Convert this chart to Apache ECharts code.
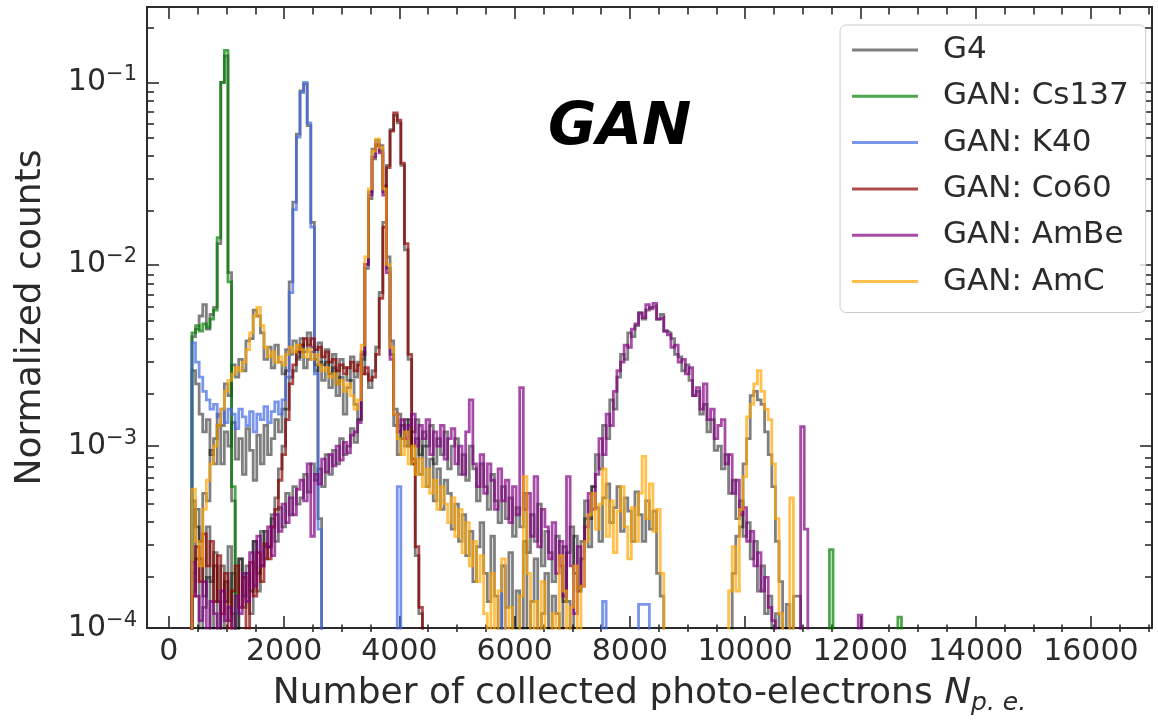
<!DOCTYPE html>
<html><head><meta charset="utf-8">
<script src="https://cdn.jsdelivr.net/npm/echarts@6/dist/echarts.min.js"></script>
<style>html,body{margin:0;padding:0;background:#fff}#c{width:1158px;height:721px}</style>
</head><body><div id="c"></div>
<script>
// ---------------- data (normalized counts per bin, bins start at X0, width BIN) ----------------
const BIN = 62.5;
const X0 = 400;

const cs137G4 = [4.0e-3, 4.4e-3, 5.2e-3, 6.0e-3, 4.4e-3, 5.3e-3, 5.8e-3, 1.3e-2, 0.1, 0.14, 9e-3, 5e-4];
const cs137Gan = [4.2e-3, 4.6e-3, 4.3e-3, 4.7e-3, 4.5e-3, 5.0e-3, 5.6e-3, 1.4e-2, 0.1, 0.15, 8e-3, 6e-4];
const cs137GanTail = [[11462.5, [2.7e-4]], [12650, [1.15e-4]]];

const k40G4 = [
  2.6e-3, 2.2e-3, 1.5e-3, 1.2e-3, 1.4e-3, 9e-4, 1.1e-3, 1.3e-3, 8e-4, 1.2e-3,
  1.0e-3, 1.35e-3, 8.5e-4, 1.1e-3, 7e-4, 1.25e-3, 9.5e-4, 6.5e-4, 1.15e-3, 8e-4,
  1.3e-3, 9e-4, 1.1e-3, 1.4e-3, 1.2e-3, 1.6e-3, 2.6e-3, 8e-3, 2.2e-2, 5.2e-2,
  0.09, 0.098, 0.058, 1.7e-2, 2.8e-3, 4e-4];
const k40Gan = [
  3.7e-3, 2.9e-3, 2.4e-3, 2.0e-3, 1.8e-3, 1.6e-3, 1.7e-3, 1.45e-3, 1.6e-3, 1.35e-3,
  1.6e-3, 1.5e-3, 1.25e-3, 1.6e-3, 1.45e-3, 1.3e-3, 1.55e-3, 1.2e-3, 1.5e-3, 1.4e-3,
  1.65e-3, 1.35e-3, 1.55e-3, 1.75e-3, 1.5e-3, 1.8e-3, 2.4e-3, 7e-3, 2.0e-2, 5e-2,
  0.088, 0.1, 0.06, 1.6e-2, 2.5e-3, 3.5e-4];
const k40GanTail = [[3962.5, [6e-4]], [5775, [2.2e-4]], [7525, [1.4e-4]], [8150, [1.35e-4, 1.35e-4, 1.35e-4]]];

const co60G4 = [
  2.0e-4, 4.5e-4, 2.4e-4, 1.5e-4, 3.6e-4, 1.8e-4, 2.6e-4, 0, 2.2e-4, 1.4e-4,
  2.8e-4, 1.2e-4, 0, 2.4e-4, 1.5e-4, 2.0e-4, 1.2e-4, 3.0e-4, 1.6e-4, 2.2e-4,
  3.4e-4, 2.8e-4, 4.2e-4, 5.2e-4, 7.5e-4, 1.0e-3, 1.6e-3, 2.4e-3, 2.6e-3, 3.0e-3,
  3.9e-3, 3.3e-3, 4.2e-3, 3.5e-3, 3.0e-3, 3.7e-3, 2.8e-3, 3.4e-3, 2.5e-3, 3.2e-3,
  2.2e-3, 3.0e-3, 2.7e-3, 2.3e-3, 3.1e-3, 2.4e-3, 2.9e-3, 3.3e-3, 2.5e-3, 2.1e-3,
  2.6e-3, 3.5e-3, 7e-3, 1.7e-2, 3.5e-2, 5.5e-2, 0.066, 0.06, 3.5e-2, 1.2e-2,
  3e-3, 8e-4, 2.5e-4, 1.2e-4];
const co60Gan = [
  1.5e-4, 2.8e-4, 1.8e-4, 3.3e-4, 2.2e-4, 3.0e-4, 1.4e-4, 2.5e-4, 1.2e-4, 2.0e-4,
  0, 1.6e-4, 2.2e-4, 1.3e-4, 1.9e-4, 0, 2.3e-4, 1.5e-4, 2.6e-4, 1.8e-4,
  2.9e-4, 2.4e-4, 3.6e-4, 4.5e-4, 6.5e-4, 9e-4, 1.4e-3, 2.2e-3, 2.8e-3, 3.3e-3,
  3.6e-3, 3.9e-3, 3.6e-3, 3.9e-3, 3.4e-3, 3.5e-3, 3.1e-3, 3.3e-3, 2.9e-3, 3.0e-3,
  2.6e-3, 2.8e-3, 2.5e-3, 2.7e-3, 2.9e-3, 2.6e-3, 2.8e-3, 2.5e-3, 2.7e-3, 2.3e-3,
  2.4e-3, 3.2e-3, 6.5e-3, 1.6e-2, 3.4e-2, 5.4e-2, 0.068, 0.062, 3.6e-2, 1.3e-2,
  3.2e-3, 8.5e-4, 2.8e-4, 1.3e-4];

const ambeG4 = [
  1.6e-4, 2.4e-4, 0, 1.3e-4, 1.9e-4, 0, 2.2e-4, 1.4e-4, 0, 1.8e-4,
  1.1e-4, 2.0e-4, 0, 2.4e-4, 1.3e-4, 2.2e-4, 1.6e-4, 3.0e-4, 2.0e-4, 3.4e-4,
  2.4e-4, 2.8e-4, 4.0e-4, 3.0e-4, 4.6e-4, 3.6e-4, 5.5e-4, 4.2e-4, 6e-4, 4.8e-4,
  5.2e-4, 7e-4, 5.6e-4, 8e-4, 6.5e-4, 7.5e-4, 6e-4, 9e-4, 7e-4, 9.5e-4,
  8e-4, 1.1e-3, 9e-4, 1.0e-3, 1.25e-3, 1.05e-3, 1.4e-3, 3.0e-3, 9.5e-3, 2.3e-2,
  3.8e-2, 4.5e-2, 4.2e-2, 2.5e-2, 9.5e-3, 3.2e-3, 1.3e-3, 1.5e-3, 1.1e-3, 1.4e-3,
  1.0e-3, 1.2e-3, 1.4e-3, 9e-4, 1.2e-3, 1.0e-3, 1.3e-3, 8e-4, 1.1e-3, 9e-4,
  1.2e-3, 7.5e-4, 1.0e-3, 1.1e-3, 7e-4, 9e-4, 6.5e-4, 1.0e-3, 7.5e-4, 5e-4,
  8e-4, 6e-4, 4.5e-4, 7e-4, 5e-4, 3.8e-4, 6e-4, 4e-4, 5.2e-4, 3.2e-4,
  4.6e-4, 3.6e-4, 5.5e-4, 2.6e-4, 4.2e-4, 3.0e-4, 4.8e-4, 2.2e-4, 3.4e-4, 2.6e-4,
  1.8e-4, 3.2e-4, 2.2e-4, 1.4e-4, 2.6e-4, 3.6e-4, 2.0e-4, 1.6e-4, 3.0e-4, 5.0e-4,
  4.0e-4, 6e-4, 9e-4, 7.5e-4, 1.3e-3, 1.1e-3, 1.8e-3, 1.6e-3, 2.4e-3, 3.2e-3,
  3.0e-3, 4.2e-3, 4.0e-3, 4.6e-3, 5.4e-3, 5.0e-3, 5.6e-3, 5.8e-3, 5.9e-3, 5.0e-3,
  5.3e-3, 4.3e-3, 4.2e-3, 3.9e-3, 3.2e-3, 3.1e-3, 2.6e-3, 2.8e-3, 2.3e-3, 1.9e-3,
  2.0e-3, 1.5e-3, 1.7e-3, 1.2e-3, 1.4e-3, 9.5e-4, 1.0e-3, 7.5e-4, 9e-4, 5.5e-4,
  6.5e-4, 4e-4, 5e-4, 3.2e-4, 3.8e-4, 2.4e-4, 3.0e-4, 1.6e-4, 2.2e-4, 1.2e-4,
  1.5e-4, 0, 1.2e-4];
const ambeGan = [
  2.3e-4, 1.5e-4, 1.1e-4, 1.8e-4, 0, 1.4e-4, 1.2e-4, 0, 1.6e-4, 1.1e-4,
  1.3e-4, 0, 1.5e-4, 1.2e-4, 2.0e-4, 1.4e-4, 2.6e-4, 1.7e-4, 3.2e-4, 2.2e-4,
  2.8e-4, 3.6e-4, 2.5e-4, 4.2e-4, 3.4e-4, 4.8e-4, 3.8e-4, 5.2e-4, 4.2e-4, 5.8e-4,
  6.5e-4, 5.0e-4, 8e-4, 3.2e-4, 7e-4, 6.2e-4, 8.5e-4, 7.2e-4, 9e-4, 7.8e-4,
  1.0e-3, 8.4e-4, 1.05e-3, 9.2e-4, 1.15e-3, 1.2e-3, 1.35e-3, 3.2e-3, 1.0e-2, 2.4e-2,
  3.9e-2, 4.6e-2, 4.1e-2, 2.4e-2, 9e-3, 3.0e-3, 1.5e-3, 1.2e-3, 1.4e-3, 1.1e-3,
  1.3e-3, 1.5e-3, 1.0e-3, 1.3e-3, 1.1e-3, 1.4e-3, 9e-4, 1.2e-3, 1.0e-3, 1.3e-3,
  8.5e-4, 1.1e-3, 1.25e-3, 8e-4, 1.0e-3, 7e-4, 1.2e-3, 1.8e-3, 8e-4, 6e-4,
  9e-4, 5.5e-4, 8e-4, 6.5e-4, 4.5e-4, 7.5e-4, 5e-4, 6.5e-4, 3.8e-4, 6e-4,
  4.2e-4, 2.1e-3, 4.5e-4, 5.5e-4, 3.2e-4, 6.8e-4, 2.8e-4, 4.5e-4, 3.6e-4, 2.4e-4,
  3.8e-4, 2.0e-4, 3.0e-4, 1.5e-4, 6.8e-4, 2.2e-4, 1.2e-4, 2.8e-4, 1.7e-4, 3.6e-4,
  5.5e-4, 4.5e-4, 7e-4, 1.1e-3, 9e-4, 1.5e-3, 1.3e-3, 2.0e-3, 2.6e-3, 2.9e-3,
  3.6e-3, 3.5e-3, 4.4e-3, 4.7e-3, 5.4e-3, 5.1e-3, 6.0e-3, 5.7e-3, 6.1e-3, 5.0e-3,
  5.1e-3, 4.3e-3, 4.1e-3, 3.5e-3, 3.6e-3, 2.9e-3, 3.0e-3, 2.5e-3, 2.7e-3, 1.9e-3,
  2.1e-3, 1.6e-3, 2.2e-3, 1.4e-3, 1.6e-3, 1.1e-3, 1.3e-3, 1.4e-3, 8e-4, 9e-4,
  5.5e-4, 6.5e-4, 4.2e-4, 4.6e-4, 3.0e-4, 3.4e-4, 2.2e-4, 2.6e-4, 1.6e-4, 1.9e-4,
  1.3e-4, 1.1e-4, 0, 0, 0, 0, 0, 0, 0, 1.28e-3,
  3.5e-4];
const ambeGanTail = [[11962.5, [1.18e-4]]];

const amcG4 = [
  5.0e-4, 3.6e-4, 3.0e-4, 5.5e-4, 5.0e-4, 9.5e-4, 8e-4, 1.5e-3, 1.3e-3, 2.2e-3,
  1.9e-3, 2.8e-3, 2.4e-3, 3.0e-3, 2.6e-3, 3.8e-3, 3.9e-3, 5.6e-3, 5.2e-3, 4.2e-3,
  3.0e-3, 3.5e-3, 2.7e-3, 3.6e-3, 2.9e-3, 2.5e-3, 3.4e-3, 3.2e-3, 3.8e-3, 3.1e-3,
  3.6e-3, 2.7e-3, 3.0e-3, 3.3e-3, 2.6e-3, 2.9e-3, 2.3e-3, 2.9e-3, 2.1e-3, 2.7e-3,
  1.9e-3, 2.4e-3, 1.5e-3, 2.1e-3, 2.3e-3, 1.7e-3, 1.4e-3, 3.2e-3, 1.0e-2, 2.5e-2,
  4.3e-2, 4.8e-2, 4.5e-2, 2.7e-2, 1.1e-2, 3.8e-3, 1.6e-3, 9e-4, 1.3e-3, 1.0e-3,
  1.4e-3, 8e-4, 1.1e-3, 7e-4, 1.0e-3, 6e-4, 8.5e-4, 5e-4, 7.5e-4, 4.5e-4,
  6.5e-4, 5.5e-4, 3.5e-4, 4.8e-4, 3.0e-4, 4.2e-4, 2.5e-4, 3.4e-4, 1.8e-4, 2.8e-4,
  3.8e-4, 2.0e-4, 1.4e-4, 3.2e-4, 1.5e-4, 0, 2.2e-4, 1.3e-4, 2.6e-4, 0,
  1.6e-4, 0, 3.0e-4, 0, 1.4e-4, 2.4e-4, 0, 1.2e-4, 2.0e-4, 0,
  1.5e-4, 1.2e-4, 0, 2.8e-4, 1.4e-4, 0, 3.2e-4, 1.6e-4, 2.4e-4, 4.0e-4,
  2.8e-4, 6e-4, 4.6e-4, 3.0e-4, 5.2e-4, 6.2e-4, 3.8e-4, 4.6e-4, 6e-4, 3.4e-4,
  5.2e-4, 4.4e-4, 3.0e-4, 5.6e-4, 4.2e-4, 3.0e-4, 5.0e-4, 3.5e-4, 4.4e-4, 2.0e-4,
  1.5e-4, 0, 0, 0, 0, 0, 0, 0, 0, 0,
  0, 0, 0, 0, 0, 0, 0, 0, 0, 0,
  2.0e-4, 3.2e-4, 3.6e-4, 8e-4, 1.1e-3, 1.9e-3, 2.0e-3, 1.8e-3, 1.7e-3, 1.2e-3,
  9e-4, 6e-4, 3e-4, 1.8e-4, 0, 1.35e-4, 0, 1.5e-4, 1.5e-4];
const amcGan = [
  5.8e-4, 3.0e-4, 2.2e-4, 4.5e-4, 6.5e-4, 8e-4, 1.0e-3, 1.3e-3, 1.6e-3, 2.0e-3,
  2.3e-3, 2.5e-3, 2.7e-3, 2.6e-3, 2.9e-3, 3.4e-3, 4.2e-3, 5.2e-3, 5.8e-3, 4.6e-3,
  3.5e-3, 3.1e-3, 3.3e-3, 2.9e-3, 3.1e-3, 2.8e-3, 3.2e-3, 3.5e-3, 3.3e-3, 3.6e-3,
  3.4e-3, 3.1e-3, 3.4e-3, 3.0e-3, 3.2e-3, 2.8e-3, 2.6e-3, 2.7e-3, 2.4e-3, 2.5e-3,
  2.2e-3, 2.3e-3, 2.0e-3, 2.2e-3, 1.9e-3, 1.6e-3, 1.8e-3, 3.6e-3, 1.1e-2, 2.6e-2,
  4.2e-2, 4.9e-2, 4.4e-2, 2.6e-2, 1.0e-2, 3.5e-3, 1.5e-3, 1.1e-3, 9e-4, 1.2e-3,
  8e-4, 1.0e-3, 7e-4, 8.5e-4, 6e-4, 7.5e-4, 5.5e-4, 6.5e-4, 4.5e-4, 6e-4,
  4.8e-4, 3.8e-4, 5.2e-4, 3.2e-4, 4.5e-4, 2.6e-4, 3.8e-4, 2.2e-4, 3.0e-4, 1.8e-4,
  2.5e-4, 1.2e-4, 0, 2.0e-4, 0, 1.6e-4, 2.4e-4, 0, 1.3e-4, 0,
  0, 1.5e-4, 6.8e-4, 2.0e-4, 0, 1.4e-4, 0, 1.8e-4, 0, 0,
  1.2e-4, 0, 2.5e-4, 1.6e-4, 0, 1.3e-4, 2.2e-4, 0, 1.7e-4, 3.0e-4,
  4.2e-4, 5.5e-4, 3.5e-4, 4.8e-4, 7.5e-4, 3.2e-4, 5e-4, 2.6e-4, 4.4e-4, 6e-4,
  3.6e-4, 2.4e-4, 4.6e-4, 3.0e-4, 5.5e-4, 8.8e-4, 4.0e-4, 6.2e-4, 3.4e-4, 4.5e-4,
  2.0e-4, 0, 0, 0, 0, 0, 0, 0, 0, 0,
  0, 0, 0, 0, 0, 0, 0, 0, 0, 1.6e-4,
  2.8e-4, 1.6e-4, 4.5e-4, 6.8e-4, 1.45e-3, 1.7e-3, 2.2e-3, 2.6e-3, 2.0e-3, 1.6e-3,
  1.4e-3, 8e-4, 4e-4, 1.2e-4, 0, 0, 5.2e-4];

// ---------------- axes / ticks ----------------
const X_MIN = -380, X_MAX = 17060;
const Y_MIN = 1e-4, Y_MAX = 0.26;
const xMajorTicks = [0, 2000, 4000, 6000, 8000, 10000, 12000, 14000, 16000];
const xTickLabels = ['0', '2000', '4000', '6000', '8000', '10000', '12000', '14000', '16000'];
const xMinorTicks = [500, 1000, 1500, 2500, 3000, 3500, 4500, 5000, 5500, 6500, 7000, 7500,
  8500, 9000, 9500, 10500, 11000, 11500, 12500, 13000, 13500, 14500, 15000, 15500, 16500, 17000];
const yMajorTicks = [1e-4, 1e-3, 1e-2, 1e-1];
const yTickExponents = ['4', '3', '2', '1'];
const yMinorTicks = [2e-4,3e-4,4e-4,5e-4,6e-4,7e-4,8e-4,9e-4, 2e-3,3e-3,4e-3,5e-3,6e-3,7e-3,8e-3,9e-3,
  2e-2,3e-2,4e-2,5e-2,6e-2,7e-2,8e-2,9e-2, 2e-1];

const LEGEND = ['G4', 'GAN: Cs137', 'GAN: K40', 'GAN: Co60', 'GAN: AmBe', 'GAN: AmC'];
const COLORS = {
  'G4': 'rgba(0,0,0,0.5)',
  'GAN: Cs137': 'rgba(0,128,0,0.7)',
  'GAN: K40': 'rgba(65,105,225,0.7)',
  'GAN: Co60': 'rgba(139,0,0,0.7)',
  'GAN: AmBe': 'rgba(128,0,128,0.7)',
  'GAN: AmC': 'rgba(255,165,0,0.7)'
};

// ---------------- build ----------------
const FLOOR = 1e-6;
function stepPath(segs) {
  const pts = [];
  for (const [x0, vals] of segs) {
    pts.push([x0, FLOOR]);
    vals.forEach((v, i) => {
      const y = v > 0 ? v : FLOOR;
      pts.push([x0 + i * BIN, y], [x0 + (i + 1) * BIN, y]);
    });
    pts.push([x0 + vals.length * BIN, FLOOR]);
  }
  return pts;
}
function mk(name, segs, z) {
  const c = COLORS[name];
  return { type: 'line', name, data: stepPath(segs), symbol: 'none', showSymbol: false,
    lineStyle: { color: c, width: 2.8, join: 'miter' }, itemStyle: { color: c },
    clip: true, silent: true, z, xAxisIndex: 0, yAxisIndex: 0 };
}
const FONT = 'DejaVu Sans';
const TXT = '#2b2b2b';
const GRID = { left: 147, right: 6, top: 7, bottom: 89 };
function xAx(grid, pos, ticks, len, labels) {
  return { type: 'value', min: X_MIN, max: X_MAX, position: pos, gridIndex: grid,
    axisLine: { show: false, onZero: false }, splitLine: { show: false }, minorTick: { show: false },
    axisTick: { show: true, inside: true, length: len, customValues: ticks, lineStyle: { color: TXT, width: 1.6 } },
    axisLabel: labels ? { show: true, customValues: ticks, margin: 9, fontSize: 30, fontFamily: FONT, color: TXT,
      formatter: v => xTickLabels[xMajorTicks.indexOf(v)] } : { show: false } };
}
function yAx(grid, pos, ticks, len, labels) {
  return { type: 'log', min: Y_MIN, max: Y_MAX, logBase: 10, position: pos, gridIndex: grid,
    axisLine: { show: false, onZero: false }, splitLine: { show: false }, minorTick: { show: false },
    axisTick: { show: true, inside: true, length: len, customValues: ticks, lineStyle: { color: TXT, width: 1.6 } },
    axisLabel: labels ? { show: true, customValues: ticks, margin: 10,
      formatter: v => '{b|10}{s|\u2212' + yTickExponents[yMajorTicks.findIndex(t => Math.abs(t - v) / t < 1e-6)] + '}',
      rich: { b: { fontSize: 30, fontFamily: FONT, color: TXT, lineHeight: 36 },
              s: { fontSize: 21, fontFamily: FONT, color: TXT, lineHeight: 22, verticalAlign: 'top' } } } : { show: false } };
}
const xAxes = [xAx(0, 'bottom', xMajorTicks, 12, true), xAx(0, 'top', xMajorTicks, 12, false),
               xAx(1, 'bottom', xMinorTicks, 7.5, false), xAx(1, 'top', xMinorTicks, 7.5, false)];
Object.assign(xAxes[0], { name: 'Number of collected photo-electrons {i|N}{sub|p. e.}', nameLocation: 'middle', nameGap: 43,
  nameTextStyle: { fontSize: 36, fontFamily: FONT, color: TXT, lineHeight: 44,
    rich: { i: { fontSize: 36, fontFamily: FONT, fontStyle: 'italic', color: TXT, lineHeight: 44 },
            sub: { fontSize: 25, fontFamily: FONT, fontStyle: 'italic', color: TXT, lineHeight: 30, verticalAlign: 'bottom' } } } });
const yAxes = [yAx(0, 'left', yMajorTicks, 12, true), yAx(0, 'right', yMajorTicks, 12, false),
               yAx(1, 'left', yMinorTicks, 7, false), yAx(1, 'right', yMinorTicks, 7, false)];
Object.assign(yAxes[0], { name: 'Normalized counts', nameLocation: 'middle', nameGap: 96,
  nameTextStyle: { fontSize: 36, fontFamily: FONT, color: TXT, lineHeight: 40 } });

const series = [
  mk('G4', [[X0, cs137G4]], 2),
  mk('G4', [[X0, k40G4]], 2),
  mk('G4', [[X0, co60G4]], 2),
  mk('G4', [[X0, ambeG4]], 2),
  mk('G4', [[X0, amcG4]], 2),
  mk('GAN: Cs137', [[X0, cs137Gan]].concat(cs137GanTail), 3),
  mk('GAN: K40', [[X0, k40Gan]].concat(k40GanTail), 3),
  mk('GAN: Co60', [[X0, co60Gan]], 3),
  mk('GAN: AmBe', [[X0, ambeGan]].concat(ambeGanTail), 3),
  mk('GAN: AmC', [[X0, amcGan]], 3)
];

const chart = echarts.init(document.getElementById('c'), null, { renderer: 'canvas' });
chart.setOption({
  animation: false,
  backgroundColor: '#fff',
  grid: [
    Object.assign({ show: true, borderColor: TXT, borderWidth: 2, backgroundColor: 'transparent' }, GRID),
    Object.assign({ show: false }, GRID)
  ],
  xAxis: xAxes,
  yAxis: yAxes,
  legend: {
    left: 840, top: 25, orient: 'vertical', icon: 'rect', itemWidth: 66, itemHeight: 3, itemGap: 12.3,
    padding: [8, 17, 14, 12], backgroundColor: 'rgba(255,255,255,0.8)', borderColor: '#ccc', borderWidth: 1, borderRadius: 6,
    selectedMode: false,
    textStyle: { fontSize: 31, fontFamily: FONT, color: TXT, lineHeight: 34, padding: [0, 0, 0, 20] },
    data: LEGEND
  },
  graphic: [{ type: 'text', left: 548, top: 99, z: 100,
    style: { text: 'GAN', fill: '#000', font: 'italic bold 59px "DejaVu Sans"' } }],
  series
});
</script>
</body></html>
